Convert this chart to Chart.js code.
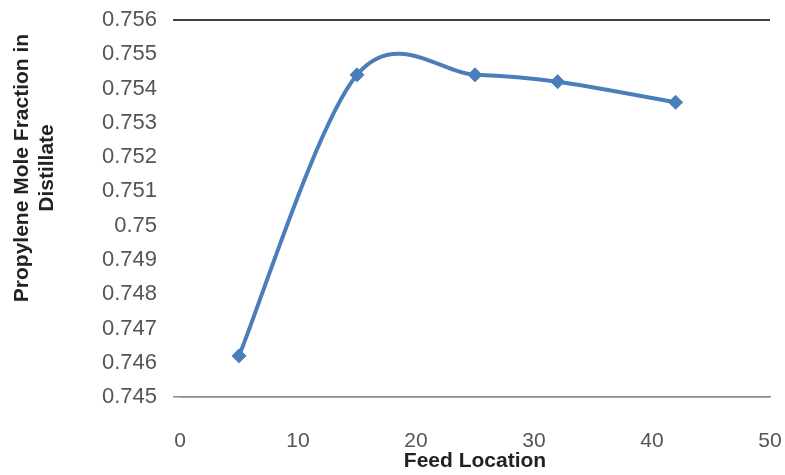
<!DOCTYPE html>
<html>
<head>
<meta charset="utf-8">
<script src="https://cdn.jsdelivr.net/npm/chart.js@4/dist/chart.umd.min.js"></script>
<style>
  html, body { margin: 0; padding: 0; background: #ffffff; }
  #wrap { width: 785px; height: 475px; position: relative; }
</style>
</head>
<body>
<div id="wrap"><canvas id="c" width="785" height="475"></canvas></div>
<script>
const feedLocation = [5, 15, 25, 32, 42];
const propyleneFraction = [0.7462, 0.7544, 0.7544, 0.7542, 0.7536];
const yTitleLines = ['Propylene Mole Fraction in', 'Distillate'];
const xTitle = 'Feed Location';
const yMin = 0.745, yMax = 0.756, yStep = 0.001;
const xMin = 0, xMax = 50, xStep = 10;

const points = feedLocation.map((x, i) => ({ x: x, y: propyleneFraction[i] }));

// Excel-like (Catmull-Rom) smoothing of the library-computed pixel points
const excelSmooth = {
  id: 'excelSmooth',
  beforeDatasetDraw(chart, args) {
    const meta = args.meta;
    const line = meta.dataset;
    if (!line) return;
    line.updateControlPoints(chart.chartArea, 'x');
    const pts = meta.data;
    const n = pts.length;
    for (let i = 0; i < n; i++) {
      const p = pts[i];
      const prev = pts[Math.max(0, i - 1)];
      const next = pts[Math.min(n - 1, i + 1)];
      const dx = (next.x - prev.x) / 6;
      const dy = (next.y - prev.y) / 6;
      p.cp1x = p.x - dx; p.cp1y = p.y - dy;
      p.cp2x = p.x + dx; p.cp2y = p.y + dy;
    }
    line._path = undefined;
  }
};

const yTitlePlugin = {
  id: 'yTitle',
  afterDraw(chart) {
    const ctx = chart.ctx;
    ctx.save();
    ctx.fillStyle = '#222';
    ctx.font = 'bold 21px "Liberation Sans", Arial, sans-serif';
    ctx.textAlign = 'center';
    ctx.textBaseline = 'alphabetic';
    const cy = 168;
    const xs = [28, 53];
    yTitleLines.forEach((t, i) => {
      ctx.save();
      ctx.translate(xs[i], cy);
      ctx.rotate(-Math.PI / 2);
      ctx.fillText(t, 0, 0);
      ctx.restore();
    });
    ctx.restore();
  }
};

new Chart(document.getElementById('c'), {
  type: 'line',
  data: {
    datasets: [{
      data: points,
      borderColor: '#4a7ebb',
      backgroundColor: '#4a7ebb',
      borderWidth: 4,
      tension: 0.4,
      pointStyle: 'rectRot',
      pointRadius: 7,
      pointBorderWidth: 1,
      pointBorderColor: '#4a7ebb',
      pointBackgroundColor: '#4a7ebb',
      fill: false
    }]
  },
  options: {
    responsive: false,
    animation: false,
    layout: { padding: { left: 0, right: 15, top: 20, bottom: 0 } },
    plugins: { legend: { display: false }, tooltip: { enabled: false } },
    scales: {
      x: {
        type: 'linear',
        min: xMin, max: xMax,
        ticks: {
          stepSize: xStep,
          color: '#555',
          padding: 32,
          font: { family: '"Liberation Sans", Arial, sans-serif', size: 21 }
        },
        grid: { display: false, drawTicks: false },
        border: { display: true, color: '#8c8c8c', width: 1.5 },
        title: {
          display: true,
          text: xTitle,
          color: '#222',
          font: { family: '"Liberation Sans", Arial, sans-serif', size: 21, weight: 'bold' },
          padding: { top: 0, bottom: 1 }
        },
        afterFit: s => { s.height = 78; s.paddingLeft = 0; s.paddingRight = 0; }
      },
      y: {
        min: yMin, max: yMax,
        ticks: {
          stepSize: yStep,
          color: '#555',
          padding: 16,
          font: { family: '"Liberation Sans", Arial, sans-serif', size: 22 },
          callback: v => String(Number(Number(v).toFixed(3)))
        },
        grid: {
          drawTicks: true,
          tickLength: 7,
          color: c => {
            if (!c.tick) return 'rgba(0,0,0,0)';
            if (c.tick.value > yMax - yStep / 2) return '#404040';
            if (c.tick.value < yMin + yStep / 2) return '#8c8c8c';
            return 'rgba(0,0,0,0)';
          },
          lineWidth: c => (c.tick && c.tick.value > yMax - yStep / 2) ? 2 : 1.5
        },
        border: { display: false },
        afterFit: s => { s.width = 180; s.paddingTop = 0; s.paddingBottom = 0; }
      }
    }
  },
  plugins: [excelSmooth, yTitlePlugin]
});
</script>
</body>
</html>
